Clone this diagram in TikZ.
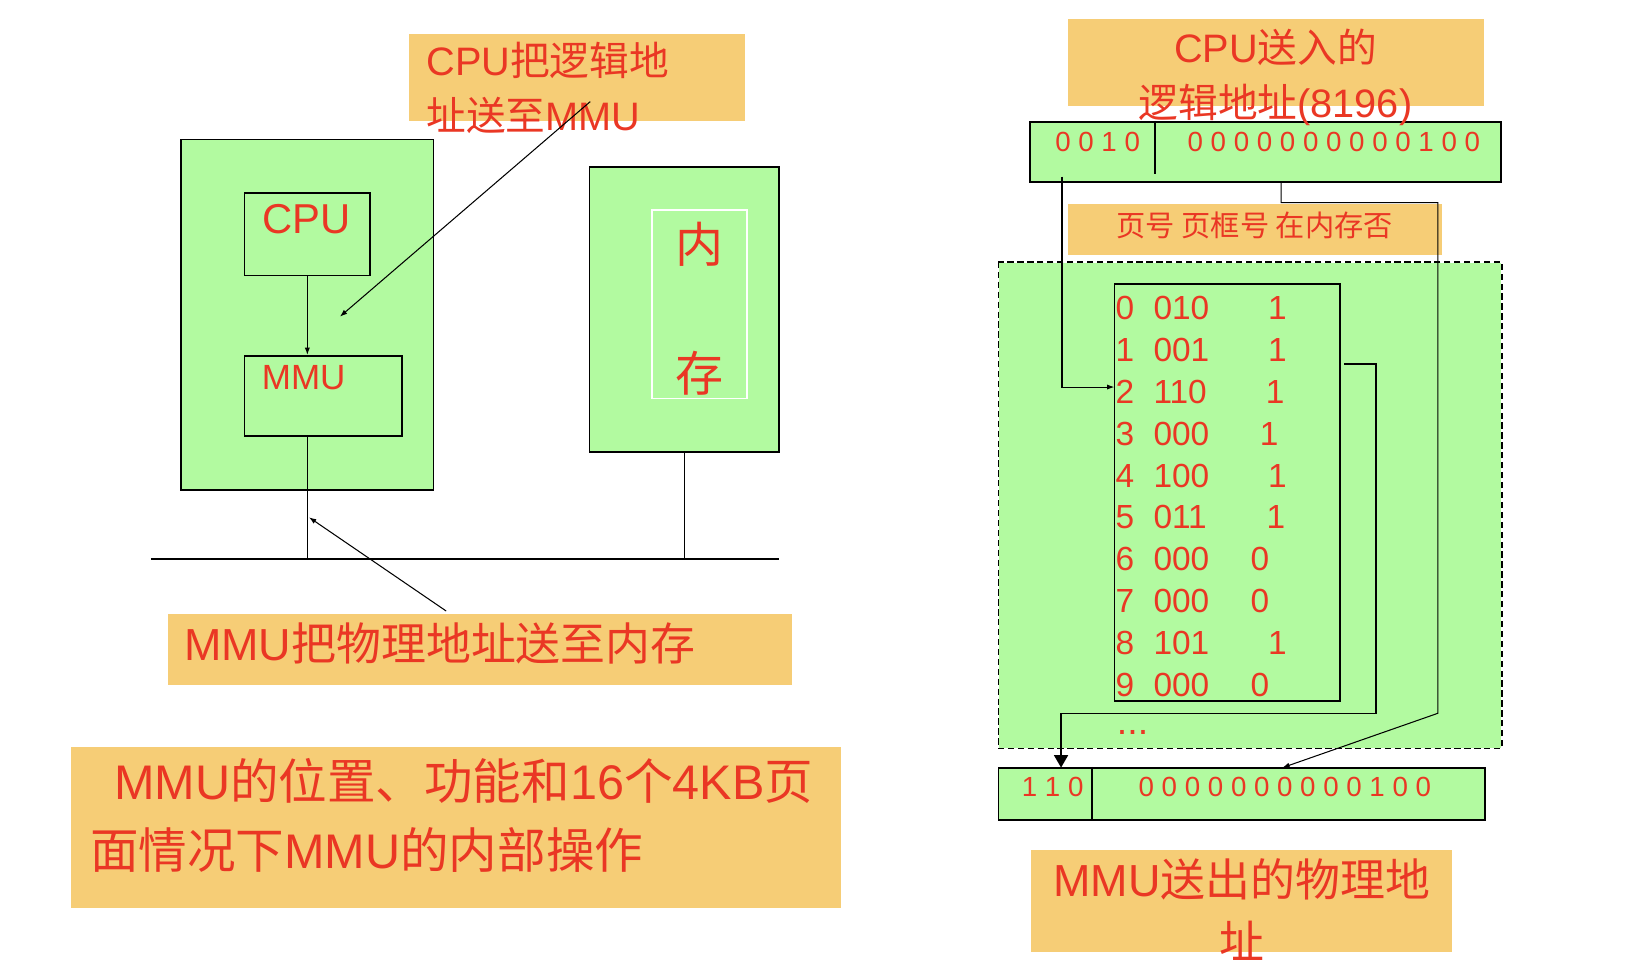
\documentclass[tikz,border=0pt]{standalone}
\usepackage{fontspec}
\setmainfont{Liberation Sans}
\newfontfamily\cjk{Noto Sans CJK SC}
\usetikzlibrary{arrows.meta}
\definecolor{boxgreen}{RGB}{178,250,160}
\definecolor{noteorange}{RGB}{246,205,118}
\definecolor{txtred}{RGB}{234,55,36}

\begin{document}
\begin{tikzpicture}[
    x=1pt, y=-1pt,
    gbox/.style={draw, line width=1.6pt, fill=boxgreen, inner sep=0pt},
    note/.style={fill=noteorange, inner sep=0pt},
    txt/.style={text=txtred, inner sep=0pt},
    wire/.style={line width=1.4pt},
    arr/.style={-{Latex[length=7pt,width=5pt]}, line width=1pt},
    bigarr/.style={-{Triangle[length=12pt,width=13pt]}, line width=2.6pt}
]
\useasboundingbox (0,0) rectangle (1568,934);

% orange notes
\node[note, minimum width=321.1pt, minimum height=83pt] (n1) at (552.5,74) {};
\node[note, minimum width=597.3pt, minimum height=67.6pt] (n2) at (459.7,621.6) {};
\node[note, minimum width=736.5pt, minimum height=154.1pt] (title) at (436.5,791.9) {};
\node[note, minimum width=397.6pt, minimum height=82.7pt] (nlog) at (1221.4,59.9) {};
\node[note, minimum width=357.6pt, minimum height=48.5pt] (ncol) at (1201.4,219.9) {};
\node[note, minimum width=402.6pt, minimum height=97.3pt] (nphy) at (1188.3,862.4) {};

% left: CPU chip, memory, bus
\node[gbox, minimum width=241.4pt, minimum height=335.7pt] (chip) at (294.2,301.3) {};
\node[gbox, minimum width=120.4pt, minimum height=78.6pt] (cpu) at (294.2,224.3) {};
\node[gbox, minimum width=151pt, minimum height=76.9pt] (mmu) at (309.5,379) {};
\node[gbox, minimum width=181.3pt, minimum height=272.9pt] (mem) at (655,296) {};
\node[draw=white, line width=1.5pt, minimum width=90.7pt, minimum height=180.3pt,
    text=txtred, align=center, font=\cjk\fontsize{46}{123.5}\selectfont] (memtxt) at (669.7,291.2)
    {\raisebox{-4pt}[\height][\depth]{内}\\\raisebox{-4pt}[\height][\depth]{存}};

% right: addresses and page table
\node[gbox, minimum width=451pt, minimum height=57.4pt] (laddr) at (1211.5,145.2) {};
\node[gbox, draw=none, minimum width=480.5pt, minimum height=464.2pt] (mmubox) at (1196.6,483.6) {};
\draw[line width=1.3pt, dash pattern=on 6pt off 3.5pt] (mmubox.north west) rectangle (mmubox.south east);
\node[gbox, minimum width=216pt, minimum height=399.1pt] (ptab) at (1174.7,471.5) {};
\node[gbox, minimum width=465.9pt, minimum height=50.1pt] (paddr) at (1188.7,759.9) {};
\draw[wire] (laddr.north west) ++(120.6,0) -- ++(0,51);
\draw[wire] (paddr.north west) ++(90.3,0) -- ++(0,51.6);

% texts (base of a two-line text is its last line)
\node[txt, font=\fontsize{38}{52.7}\selectfont, align=left, anchor=base west] (n1t) at (408,124.5)
    {CPU{\cjk 把逻辑地}\\{\cjk 址送至}MMU};
\node[txt, font=\fontsize{40}{40}\selectfont, anchor=base west] (cputxt) at (251,223.4) {CPU};
\node[txt, font=\fontsize{33.5}{33.5}\selectfont, anchor=base west] (mmutxt) at (250.5,373.3) {MMU};
\node[txt, font=\fontsize{43}{43}\selectfont, anchor=base west] (n2t) at (176,632.2)
    {MMU{\cjk 把物理地址送至内存}};
\node[txt, font=\fontsize{46.5}{65.7}\selectfont, align=left, anchor=base west] (titlet) at (86,830.9)
    {\hspace*{23pt}MMU{\cjk 的位置、功能和}16{\cjk 个}4KB{\cjk 页}\\{\cjk 面情况下}MMU{\cjk 的内部操作}};
\node[txt, font=\fontsize{38}{52.5}\selectfont, align=center, anchor=base] (nlogt) at (1221,112)
    {CPU{\cjk 送入的}\\{\cjk 逻辑地址}(8196)};
\node[txt, font=\cjk\fontsize{28}{28}\selectfont, anchor=base] (ncolt) at (1201,226.4) {页号 页框号 在内存否};
\node[txt, font=\fontsize{43}{59}\selectfont, align=center, anchor=base] (nphyt) at (1188.5,917.4)
    {MMU{\cjk 送出的物理地}\\{\cjk 址}};
\node[txt, font=\fontsize{26.5}{26.5}\selectfont, anchor=base west] (lpage) at (1010,145.2) {0 0 1 0};
\node[txt, font=\fontsize{26.5}{26.5}\selectfont, anchor=base west] (loff) at (1136.7,145.2) {0 0 0 0 0 0 0 0 0 0 1 0 0};
\node[txt, font=\fontsize{26.5}{26.5}\selectfont, anchor=base west] (pframe) at (978,762.6) {1 1 0};
\node[txt, font=\fontsize{26.5}{26.5}\selectfont, anchor=base west] (poff) at (1089.8,762.6) {0 0 0 0 0 0 0 0 0 0 1 0 0};
\foreach \fno/\pres/\px [count=\i from 0] in {010/1/1213.8, 001/1/1213.8, 110/1/1211.6, 000/1/1205.8,
    100/1/1213.8, 011/1/1212.2, 000/0/1196.9, 000/0/1196.9, 101/1/1213.8, 000/0/1196.9} {
  \node[txt, font=\fontsize{32}{32}\selectfont, anchor=base west] (pg\i) at (1067.7,{305.7+40.13*\i}) {\i};
  \node[txt, font=\fontsize{32}{32}\selectfont, anchor=base west] (fr\i) at (1104,{305.7+40.13*\i}) {\fno};
  \node[txt, font=\fontsize{32}{32}\selectfont, anchor=base west] (in\i) at (\px,{305.7+40.13*\i}) {\pres};
}
\node[txt, font=\fontsize{36}{36}\selectfont, anchor=base west] (dots) at (1069,703.5) {...};

% connectors, left
\coordinate (busw) at (144.4,535.1);
\coordinate (buse) at (746,535.1);
\draw[line width=1.6pt] (busw) -- (buse);
\draw[arr] (cpu.south) -- (cpu.south |- mmu.north);
\draw[wire] (cpu.south |- mmu.south) -- (cpu.south |- busw);
\draw[wire] (mem.south) -- (mem.south |- busw);
\coordinate (n1tail) at (565,97.3);
\coordinate (n1head) at (325.4,303.1);
\draw[arr] (n1tail) -- (n1head);
\coordinate (n2tail) at (427.1,584.9);
\coordinate (n2head) at (295.8,495.2);
\draw[arr] (n2tail) -- (n2head);

% connectors, right
\coordinate (pgout) at (1016.6,169);
\coordinate (pgin) at (1066.7,370.5);
\draw[arr] (pgout) |- (pgin);
\coordinate (offout) at (1226.3,173.9);
\coordinate (offbend) at (1376.4,682.8);
\coordinate (offin) at (1227.5,734.9);
\draw[arr] (offout) -- ++(0,20.1) -| (offbend) -- (offin);
\coordinate (frout) at (1286.6,348.4);
\coordinate (frbend) at (1317,682.8);
\coordinate (frin) at (1015.7,734.9);
\draw[wire] (frout) -| (frbend) -- (frin |- frbend);
\draw[bigarr] (frin |- frbend) -- (frin);
\end{tikzpicture}
\end{document}
